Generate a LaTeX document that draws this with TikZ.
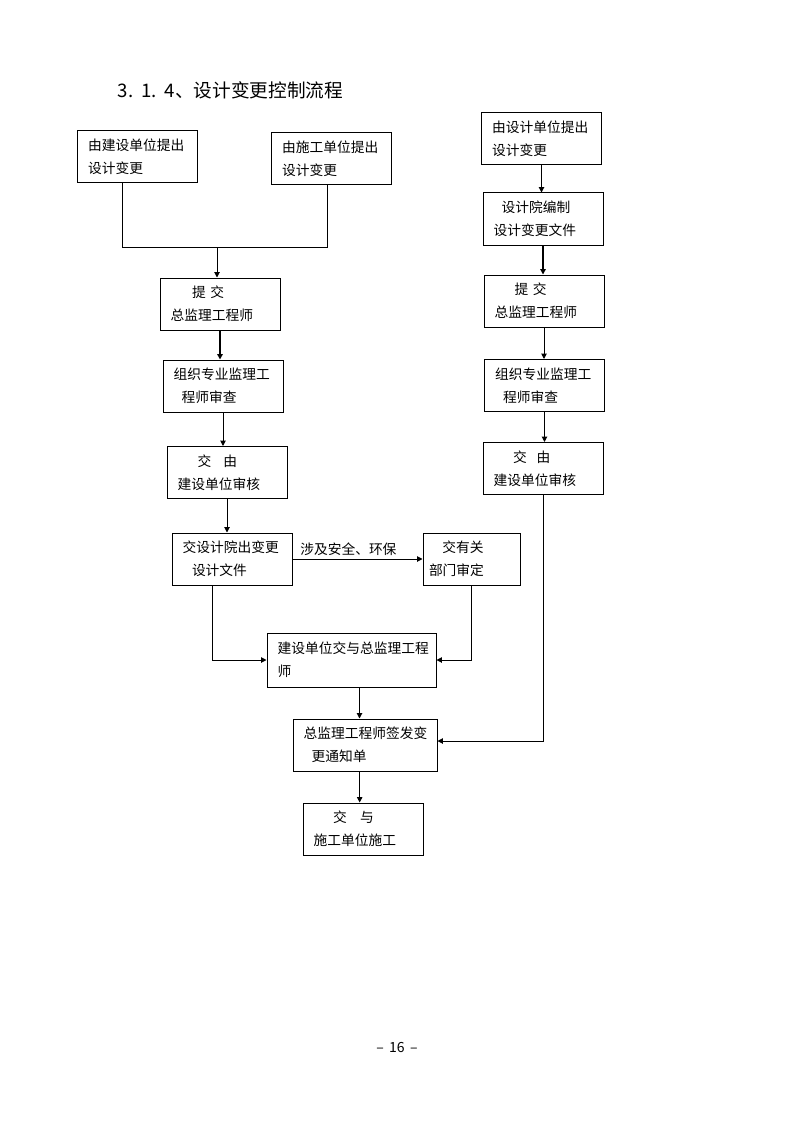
\documentclass[tikz,border=0pt]{standalone}
\usepackage{fontspec}
\setmainfont{Noto Sans CJK SC}
\usetikzlibrary{arrows.meta}
\begin{document}
\begin{tikzpicture}[x=0.75pt,y=-0.75pt,
  every node/.style={font=\fontsize{10.3}{17}\selectfont},
  box/.style={draw,line width=0.75pt,minimum height=39pt,inner xsep=8pt,align=left,text width=#1},
  box/.default=74pt,
  ln/.style={line width=0.75pt},
  arr/.style={line width=0.75pt,-{Triangle[length=4pt,width=4pt]}}]
\useasboundingbox (0,0) rectangle (794,1123);
\node[anchor=west,font=\fontsize{14}{16}\selectfont] (title) at (113,90) {3.\hspace{6pt}1.\hspace{6pt}4、设计变更控制流程};
\node[box] (jsdw) at (137.5,157) {由建设单位提出\\设计变更};
\node[box] (sgdw) at (331.5,159) {由施工单位提出\\设计变更};
\node[box] (sjdw) at (541.5,138.5) {由设计单位提出\\设计变更};
\node[box] (sjy) at (543,219) {\hspace*{6pt}设计院编制\\设计变更文件};
\node[box] (tj1) at (220,304) {\hspace*{16pt}提 交\\总监理工程师};
\node[box] (sc1) at (223,386) {组织专业监理工\\\hspace*{6pt}程师审查};
\node[box] (sh1) at (227,472.5) {\hspace*{15pt}交\hspace{9pt}由\\建设单位审核};
\node[box] (cwj) at (232,559) {交设计院出变更\\\hspace*{7pt}设计文件};
\node[box=63.75pt,inner xsep=4.5pt] (bm) at (471.5,559) {\hspace*{10pt}交有关\\部门审定};
\node[box=110.75pt,minimum height=40.5pt] (jy) at (351.5,660) {建设单位交与总监理工程\\师};
\node[box=92pt] (qf) at (365,745) {总监理工程师签发变\\\hspace*{6pt}更通知单};
\node[box] (sg) at (363,829) {\hspace*{14.5pt}交\hspace{10pt}与\\施工单位施工};
\node[box] (tj2) at (544,301) {\hspace*{15pt}提 交\\总监理工程师};
\node[box] (sc2) at (544.5,385.5) {组织专业监理工\\\hspace*{6pt}程师审查};
\node[box] (sh2) at (543,468.5) {\hspace*{14.5pt}交\hspace{7.5pt}由\\建设单位审核};
\coordinate (ja) at (122,247);
\coordinate (jb) at (327,247);
\coordinate (jm) at (217,247);
\draw[ln] (jsdw.south -| ja) -- (ja) -- (jb) -- (sgdw.south -| jb);
\draw[arr] (jm) -- (tj1.north -| jm);
\draw[arr,line width=1.5pt] (tj1.south) -- (tj1.south |- sc1.north);
\draw[arr] (sc1.south) -- (sc1.south |- sh1.north);
\draw[arr] (sh1.south) -- (sh1.south |- cwj.north);
\draw[arr] (cwj.east) -- (bm.west) node[pos=0.43,above,inner sep=2pt] (aqhb) {涉及安全、环保};
\draw[arr] ([xshift=-15pt]cwj.south) |- (jy.west);
\draw[arr] (bm.south) |- (jy.east);
\draw[arr] ([xshift=6pt]jy.south) -- ([xshift=6pt]jy.south |- qf.north);
\draw[arr] ([xshift=-4pt]qf.south) -- ([xshift=-4pt]qf.south |- sg.north);
\draw[arr] (sjdw.south) -- (sjdw.south |- sjy.north);
\draw[arr,line width=1.5pt] (sjy.south) -- (sjy.south |- tj2.north);
\draw[arr] (tj2.south) -- (tj2.south |- sc2.north);
\draw[arr] (sc2.south) -- (sc2.south |- sh2.north);
\draw[arr] (sh2.south) |- ([yshift=3pt]qf.east);
\node[font=\fontsize{10.5}{12}\selectfont] (pg) at (397,1047) {–\hspace{4pt}16\hspace{4pt}–};
\end{tikzpicture}
\end{document}
